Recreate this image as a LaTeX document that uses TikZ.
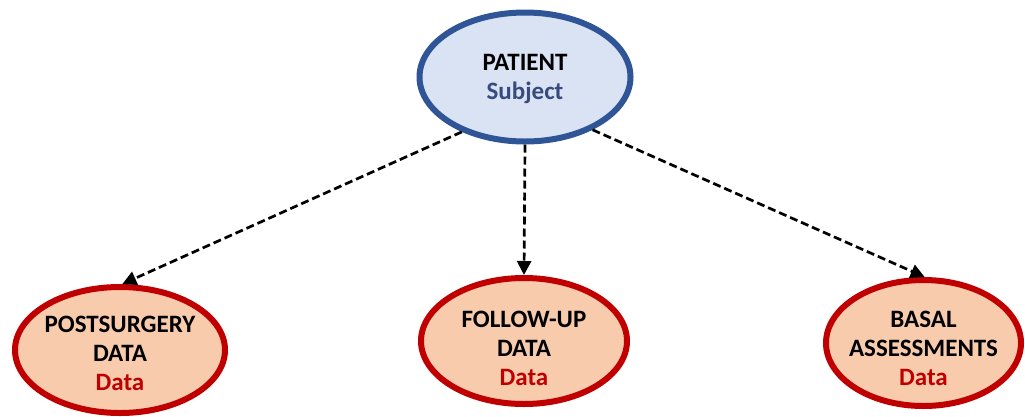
\documentclass[tikz,border=0pt]{standalone}
\usepackage{fontspec}
\setmainfont{Carlito}
\usetikzlibrary{shapes.geometric,arrows.meta}
\definecolor{pfill}{RGB}{218,227,243}
\definecolor{pdraw}{RGB}{47,85,151}
\definecolor{subj}{RGB}{55,75,125}
\definecolor{cfill}{RGB}{248,203,173}
\definecolor{cdraw}{RGB}{192,0,0}
\begin{document}
\begin{tikzpicture}[x=1pt,y=-1pt,
  parent/.style={ellipse,draw=pdraw,fill=pfill,line width=6pt,inner sep=0pt},
  child/.style={ellipse,draw=cdraw,fill=cfill,line width=6pt,inner sep=0pt,minimum height=126pt},
  txt/.style={align=center,inner sep=0pt,font=\fontsize{25}{29}\selectfont\bfseries},
  link/.style={dashed,dash pattern=on 8pt off 4pt,line width=2.7pt,-{Triangle[length=14pt,width=14pt]}}]
\useasboundingbox (0,0) rectangle (1025,416);
\node[parent,minimum width=211pt,minimum height=129pt] (p) at (525,77) {};
\node[txt,yshift=-2pt] (pt) at (p) {PATIENT\\\textcolor{subj}{Subject}};
\node[child,minimum width=210pt] (post) at (120,350) {};
\node[txt,yshift=-3pt] (postt) at (post) {POSTSURGERY\\DATA\\\textcolor{cdraw}{Data}};
\node[child,minimum width=206pt] (fu) at (524,341) {};
\node[txt,yshift=-7pt] (fut) at (fu) {FOLLOW-UP\\DATA\\\textcolor{cdraw}{Data}};
\node[child,minimum width=195pt] (bas) at (923.5,343) {};
\node[txt,yshift=-5pt] (bast) at (bas) {BASAL\\ASSESSMENTS\\\textcolor{cdraw}{Data}};
\draw[link] (p.221) -- (post.88);
\draw[link] (p.south) -- (fu.north);
\draw[link] (p.-38) -- (bas.89);
\end{tikzpicture}
\end{document}
